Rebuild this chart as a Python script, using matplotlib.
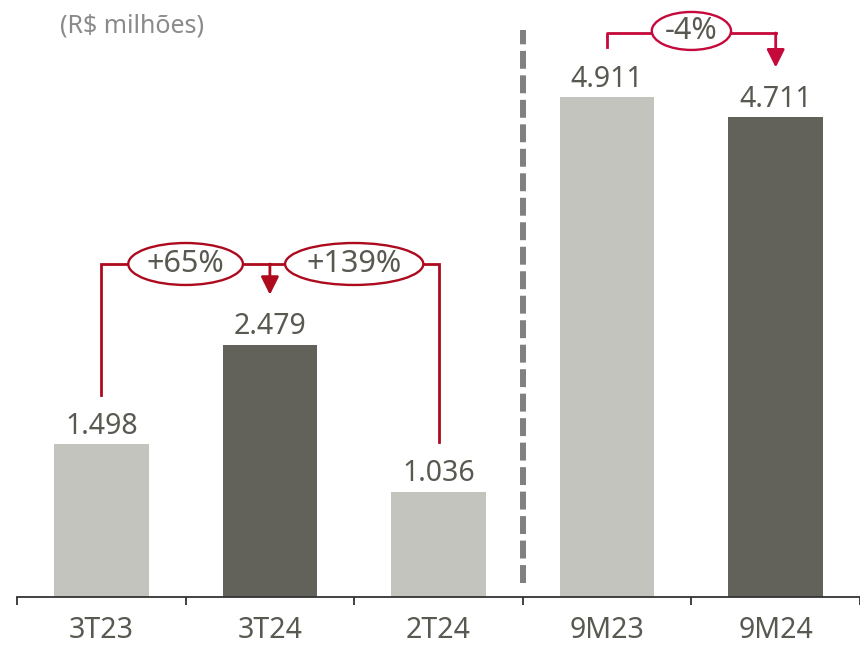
import matplotlib
matplotlib.use("Agg")
import matplotlib.pyplot as plt
from matplotlib.patches import Ellipse
import numpy as np

plt.rcParams['font.family'] = ['Noto Sans', 'DejaVu Sans']

# ---- data ----
categories = ["3T23", "3T24", "2T24", "9M23", "9M24"]
values = [1498, 2479, 1036, 4911, 4711]          # R$ milhões
bar_colors = ["#C4C4BF", "#62625A", "#C4C4BF", "#C4C4BF", "#62625A"]
unit_label = "(R$ milhões)"
comparisons = [  # (from index, to index, label)
    (0, 1, "+65%"),
    (2, 1, "+139%"),
    (3, 4, "-4%"),
]

TEXT = "#595952"
RED_L = "#AE0A1E"
RED_R = "#C5093B"

fig = plt.figure(figsize=(8.6, 6.46), dpi=100)
ax = fig.add_axes([17/860, 49/646, 843/860, 597/646])
x = np.arange(len(categories))
bars = ax.bar(x, values, width=0.56, color=bar_colors, zorder=2)

ax.set_xlim(-0.5, 4.459)
ax.set_ylim(0, 5864)

def fmt(v):
    return f"{v:,}".replace(",", ".")

for xi, v in zip(x, values):
    ax.annotate(fmt(v), (xi, v), xytext=(0, 7.5), textcoords="offset points",
                ha="center", va="baseline", fontsize=20.5, color=TEXT)

# axes styling
for s in ["left", "right", "top"]:
    ax.spines[s].set_visible(False)
ax.spines["bottom"].set_color("#333333")
ax.spines["bottom"].set_linewidth(1.3)
ax.set_yticks([])
ax.set_xticks(np.arange(-0.5, 5, 1))
ax.set_xticklabels([])
ax.tick_params(axis="x", which="major", direction="out", length=6, width=1.3, color="#333333")
ax.set_xticks(x, minor=True)
ax.set_xticklabels(categories, minor=True, fontsize=20.5, color=TEXT)
ax.tick_params(axis="x", which="minor", length=0, pad=13.5)

# dashed separator
ax.plot([2.5, 2.5], [135, 5570], color="#808080", lw=4.3, dashes=(3.0, 1.1),
        solid_capstyle="butt", zorder=1)

# title
fig.text(60/860, 1 - 26/646, unit_label, fontsize=18, color="#8A8A8A",
         ha="left", va="center")

gap = 490
arrow_kw = dict(arrowstyle="-|>,head_length=0.4,head_width=0.2", mutation_scale=27,
                shrinkA=0, shrinkB=0, lw=2)

# left brackets (quarters)
lvl_l = 3271
ell_h = 412
for (i0, i1, lab), w in zip(comparisons[:2], [0.68, 0.82]):
    ax.plot([i0, i0, i1], [values[i0] + gap, lvl_l, lvl_l], color=RED_L, lw=2, zorder=3,
            solid_joinstyle="miter")
    cx = (i0 + i1) / 2
    ax.add_patch(Ellipse((cx, lvl_l), w, ell_h, facecolor="white", edgecolor=RED_L,
                         lw=1.7, zorder=4))
    ax.text(cx, lvl_l, lab, ha="center", va="center", fontsize=22, color=TEXT, zorder=5)
ax.annotate("", xy=(1, values[1] + gap), xytext=(1, lvl_l),
            arrowprops=dict(color=RED_L, **arrow_kw), zorder=3)

# right bracket (9M)
lvl_r = 5540
i0, i1, lab = comparisons[2]
ax.plot([i0, i0, i1], [values[i0] + gap, lvl_r, lvl_r], color=RED_R, lw=2, zorder=3)
ax.annotate("", xy=(i1, values[i1] + gap), xytext=(i1, lvl_r),
            arrowprops=dict(color=RED_R, **arrow_kw), zorder=3)
cx = (i0 + i1) / 2
ax.add_patch(Ellipse((cx, lvl_r + 20), 0.47, 373, facecolor="white", edgecolor=RED_R,
                     lw=1.7, zorder=4))
ax.text(cx, lvl_r + 20, lab, ha="center", va="center", fontsize=22, color=TEXT, zorder=5)

fig.savefig("out.png", dpi=100)
